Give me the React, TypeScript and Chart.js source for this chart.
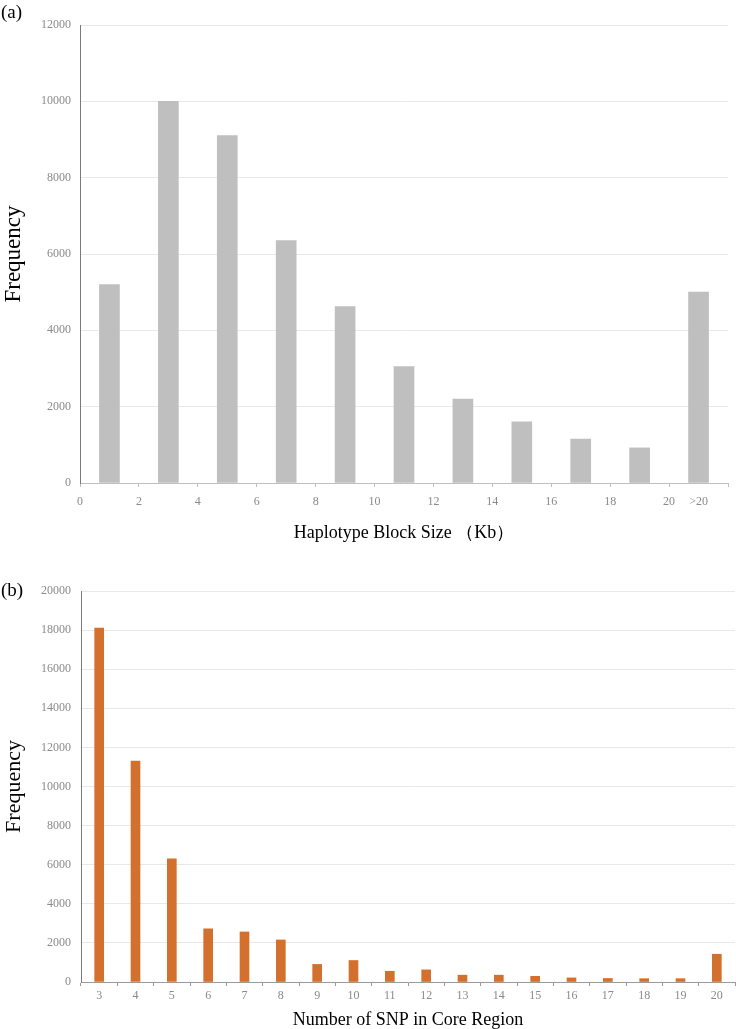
import React, { useEffect, useRef } from 'react';
import { Chart, registerables } from 'chart.js';

Chart.register(...registerables);

// ---- Data: chart (a) ----
const blockSizeBins = [1, 3, 5, 7, 9, 11, 13, 15, 17, 19, 21];
const blockFrequency = [5200, 10000, 9100, 6350, 4620, 3050, 2200, 1600, 1150, 920, 5000];
const blockTickValues = [0, 2, 4, 6, 8, 10, 12, 14, 16, 18, 20, 21, 22];
const blockTickLabels = ['0', '2', '4', '6', '8', '10', '12', '14', '16', '18', '20', '>20', ''];

// ---- Data: chart (b) ----
const snpCategories = ['3', '4', '5', '6', '7', '8', '9', '10', '11', '12', '13', '14', '15', '16', '17', '18', '19', '20'];
const snpFrequency = [18100, 11300, 6300, 2720, 2560, 2150, 900, 1100, 550, 620, 350, 350, 290, 210, 180, 170, 170, 1420];

const FONT = "'Liberation Serif', 'Times New Roman', serif";
const TICK_COLOR = '#8a8a8a';
const GRID_COLOR = '#e8e8e8';

const plainNumber = (value: any) => String(value);

function ChartA() {
  const ref = useRef<HTMLCanvasElement | null>(null);
  useEffect(() => {
    if (!ref.current) return;
    const chart = new Chart(ref.current, {
      type: 'bar',
      data: {
        datasets: [
          {
            data: blockSizeBins.map((x, i) => ({ x, y: blockFrequency[i] })),
            backgroundColor: '#bfbfbf',
            borderWidth: 0,
            barThickness: 20,
          },
        ],
      },
      options: {
        responsive: false,
        animation: false,
        layout: { padding: { top: 25, right: 4, left: 0, bottom: 0 } },
        plugins: { legend: { display: false }, tooltip: { enabled: false } },
        scales: {
          x: {
            type: 'linear',
            offset: false,
            min: 0,
            max: 22,
            afterBuildTicks: (scale: any) => {
              scale.ticks = blockTickValues.map((v) => ({ value: v }));
            },
            afterFit: (scale: any) => {
              scale.height = 67;
            },
            grid: {
              offset: false,
              drawOnChartArea: false,
              drawTicks: true,
              tickLength: 4,
              tickColor: (ctx: any) => (ctx.tick && ctx.tick.value === 21 ? 'rgba(0,0,0,0)' : '#bfbfbf'),
            },
            border: { color: '#bfbfbf', width: 1 },
            ticks: {
              autoSkip: false,
              maxRotation: 0,
              padding: 8,
              color: TICK_COLOR,
              font: { family: FONT, size: 12 },
              callback: (value: any) => {
                const i = blockTickValues.indexOf(Number(value));
                return i >= 0 ? blockTickLabels[i] : '';
              },
            },
            title: {
              display: true,
              text: 'Haplotype Block Size （Kb）',
              color: '#000',
              font: { family: FONT, size: 18 },
              padding: { top: 0, bottom: 6 },
            },
          },
          y: {
            min: 0,
            max: 12000,
            afterFit: (scale: any) => {
              scale.width = 80;
            },
            grid: {
              drawTicks: false,
              color: (ctx: any) => (ctx.tick && ctx.tick.value === 0 ? 'rgba(0,0,0,0)' : GRID_COLOR),
            },
            border: { color: '#7a7a7a', width: 1 },
            ticks: {
              stepSize: 2000,
              padding: 9,
              color: TICK_COLOR,
              font: { family: FONT, size: 12 },
              callback: plainNumber,
            },
            title: {
              display: true,
              text: 'Frequency',
              color: '#000',
              font: { family: FONT, size: 23 },
              padding: { top: 0, bottom: 0 },
            },
          },
        },
      },
    });
    return () => chart.destroy();
  }, []);
  return <canvas ref={ref} width={736} height={550} style={{ display: 'block' }} />;
}

function ChartB() {
  const ref = useRef<HTMLCanvasElement | null>(null);
  useEffect(() => {
    if (!ref.current) return;
    const chart = new Chart(ref.current, {
      type: 'bar',
      data: {
        labels: snpCategories,
        datasets: [
          {
            data: snpFrequency,
            backgroundColor: '#d4702e',
            borderWidth: 0,
            barThickness: 9,
          },
        ],
      },
      options: {
        responsive: false,
        animation: false,
        layout: { padding: { top: 41, right: 1, left: 0, bottom: 0 } },
        plugins: { legend: { display: false }, tooltip: { enabled: false } },
        scales: {
          x: {
            type: 'category',
            afterFit: (scale: any) => {
              scale.height = 47;
            },
            grid: {
              drawOnChartArea: false,
              drawTicks: true,
              tickLength: 4,
              tickColor: '#9a9a9a',
            },
            border: { color: '#9a9a9a', width: 1 },
            ticks: {
              autoSkip: false,
              maxRotation: 0,
              padding: 3,
              color: TICK_COLOR,
              font: { family: FONT, size: 12 },
            },
            title: {
              display: true,
              text: 'Number of SNP in Core Region',
              color: '#000',
              font: { family: FONT, size: 18 },
              padding: { top: 0, bottom: -2 },
            },
          },
          y: {
            min: 0,
            max: 20000,
            afterFit: (scale: any) => {
              scale.width = 81;
            },
            grid: {
              drawTicks: false,
              color: (ctx: any) => (ctx.tick && ctx.tick.value === 0 ? 'rgba(0,0,0,0)' : GRID_COLOR),
            },
            border: { color: '#7a7a7a', width: 1 },
            ticks: {
              stepSize: 2000,
              padding: 10,
              color: TICK_COLOR,
              font: { family: FONT, size: 12 },
              callback: plainNumber,
            },
            title: {
              display: true,
              text: 'Frequency',
              color: '#000',
              font: { family: FONT, size: 22 },
              padding: { top: 1, bottom: 0 },
            },
          },
        },
      },
    });
    return () => chart.destroy();
  }, []);
  return <canvas ref={ref} width={736} height={479} style={{ display: 'block' }} />;
}

export default function App() {
  const labelStyle: React.CSSProperties = {
    position: 'absolute',
    left: 1,
    fontFamily: FONT,
    fontSize: 19,
    lineHeight: '22px',
    color: '#000',
  };
  return (
    <div style={{ position: 'absolute', left: 0, top: 0, width: 736, height: 1029, background: '#fff', overflow: 'hidden' }}>
      <div style={{ position: 'absolute', left: 0, top: 0 }}>
        <ChartA />
      </div>
      <div style={{ position: 'absolute', left: 0, top: 550 }}>
        <ChartB />
      </div>
      <div style={{ ...labelStyle, top: 1 }}>(a)</div>
      <div style={{ ...labelStyle, top: 579 }}>(b)</div>
    </div>
  );
}
